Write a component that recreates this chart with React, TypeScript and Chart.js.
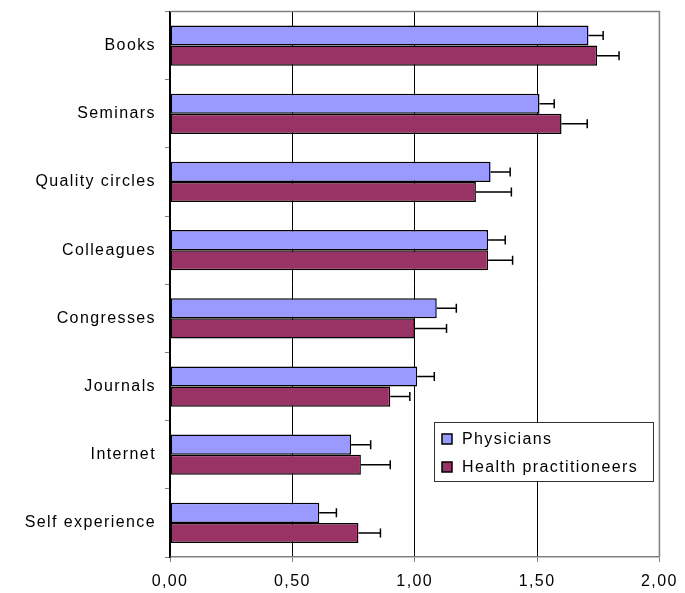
import React, { useEffect, useRef } from "react";
import { Chart, registerables } from "chart.js";

Chart.register(...registerables);

const categories = ["Books", "Seminars", "Quality circles", "Colleagues", "Congresses", "Journals", "Internet", "Self experience"];
const physicians = [1.71, 1.51, 1.31, 1.30, 1.09, 1.01, 0.74, 0.61];
const physiciansErr = [0.06, 0.06, 0.08, 0.07, 0.08, 0.07, 0.08, 0.07];
const practitioners = [1.745, 1.60, 1.25, 1.30, 1.00, 0.90, 0.78, 0.77];
const practitionersErr = [0.09, 0.105, 0.145, 0.10, 0.13, 0.08, 0.12, 0.09];
const seriesNames = ["Physicians", "Health practitioneers"];
const xTicks = [0, 0.5, 1, 1.5, 2];

const FONT = "'Liberation Sans', Arial, sans-serif";
const SPACING = "1.4px";

const errorBarPlugin = {
  id: "errorBars",
  beforeDraw(chart: any) {
    chart.ctx.letterSpacing = SPACING;
  },
  afterDatasetsDraw(chart: any) {
    const ctx = chart.ctx;
    const xScale = chart.scales.x;
    const errs = [physiciansErr, practitionersErr];
    chart.data.datasets.forEach((ds: any, di: number) => {
      const meta = chart.getDatasetMeta(di);
      meta.data.forEach((el: any, i: number) => {
        const v = ds.data[i];
        const x0 = el.x;
        const x1 = xScale.getPixelForValue(v + errs[di][i]);
        const y = el.y;
        ctx.save();
        ctx.strokeStyle = "#000";
        ctx.lineWidth = 1.5;
        ctx.beginPath();
        ctx.moveTo(x0, y);
        ctx.lineTo(x1, y);
        ctx.moveTo(x1, y - 4.5);
        ctx.lineTo(x1, y + 4.5);
        ctx.stroke();
        ctx.restore();
      });
    });
  },
  afterDraw(chart: any) {
    const ctx = chart.ctx;
    const a = chart.chartArea;
    ctx.save();
    ctx.strokeStyle = "#808080";
    ctx.lineWidth = 1.5;
    ctx.beginPath();
    ctx.moveTo(a.left, a.top);
    ctx.lineTo(a.right, a.top);
    ctx.lineTo(a.right, a.bottom);
    ctx.stroke();
    const lx = 434, ly = 422, lw = 219, lh = 59;
    ctx.fillStyle = "#fff";
    ctx.fillRect(lx, ly, lw, lh);
    ctx.strokeStyle = "#333";
    ctx.lineWidth = 1;
    ctx.strokeRect(lx + 0.5, ly + 0.5, lw, lh);
    const colors = ["#9999FF", "#993366"];
    const rows = [439, 467];
    ctx.font = `16px ${FONT}`;
    ctx.textBaseline = "middle";
    ctx.textAlign = "left";
    (ctx as any).letterSpacing = SPACING;
    rows.forEach((ry, k) => {
      ctx.fillStyle = colors[k];
      ctx.fillRect(442, ry - 5, 10, 10);
      ctx.strokeStyle = "#000";
      ctx.lineWidth = 1.5;
      ctx.strokeRect(442, ry - 5, 10, 10);
      ctx.fillStyle = "#000";
      ctx.fillText(seriesNames[k], 462, ry + 1);
    });
    ctx.restore();
  },
};

export default function App() {
  const ref = useRef<HTMLCanvasElement | null>(null);
  useEffect(() => {
    document.body.style.margin = "0";
    const canvas = ref.current!;
    const chart = new Chart(canvas, {
      type: "bar",
      data: {
        labels: categories,
        datasets: [
          {
            label: seriesNames[0],
            data: physicians,
            backgroundColor: "#9999FF",
            borderColor: "#000",
            borderWidth: 1.5,
            borderSkipped: false,
            categoryPercentage: 0.59,
            barPercentage: 1.0,
          },
          {
            label: seriesNames[1],
            data: practitioners,
            backgroundColor: "#993366",
            borderColor: "#000",
            borderWidth: 1.5,
            borderSkipped: false,
            categoryPercentage: 0.59,
            barPercentage: 1.0,
          },
        ],
      },
      options: {
        indexAxis: "y",
        responsive: false,
        animation: false,
        layout: { padding: { top: 11.5, right: 22, left: 0, bottom: 0 } },
        plugins: { legend: { display: false }, tooltip: { enabled: false } },
        scales: {
          x: {
            min: 0,
            max: 2,
            afterBuildTicks(scale: any) {
              scale.ticks = xTicks.map((v) => ({ value: v }));
            },
            afterFit(scale: any) {
              scale.height = 36;
            },
            grid: {
              color: (c: any) => (c.tick && c.tick.value === 2 ? "#808080" : "#000"),
              lineWidth: 1,
              tickColor: "#808080",
              tickLength: 5,
              drawTicks: true,
            },
            border: { display: true, color: "#808080", width: 1.5 },
            ticks: {
              color: "#000",
              font: { family: FONT, size: 16 },
              padding: 10,
              maxRotation: 0,
              callback: (v: any) => Number(v).toFixed(2).replace(".", ","),
            },
          },
          y: {
            afterFit(scale: any) {
              scale.width = 170;
              scale.paddingTop = 0;
              scale.paddingBottom = 0;
            },
            grid: {
              drawOnChartArea: false,
              drawTicks: true,
              tickLength: 5,
              tickColor: "#808080",
              offset: true,
            },
            border: { display: true, color: "#000", width: 1.5 },
            ticks: {
              color: "#000",
              font: { family: FONT, size: 16 },
              padding: 9,
            },
          },
        },
      },
      plugins: [errorBarPlugin],
    } as any);
    return () => chart.destroy();
  }, []);
  return <canvas ref={ref} width={685} height={593} style={{ display: "block" }} />;
}
